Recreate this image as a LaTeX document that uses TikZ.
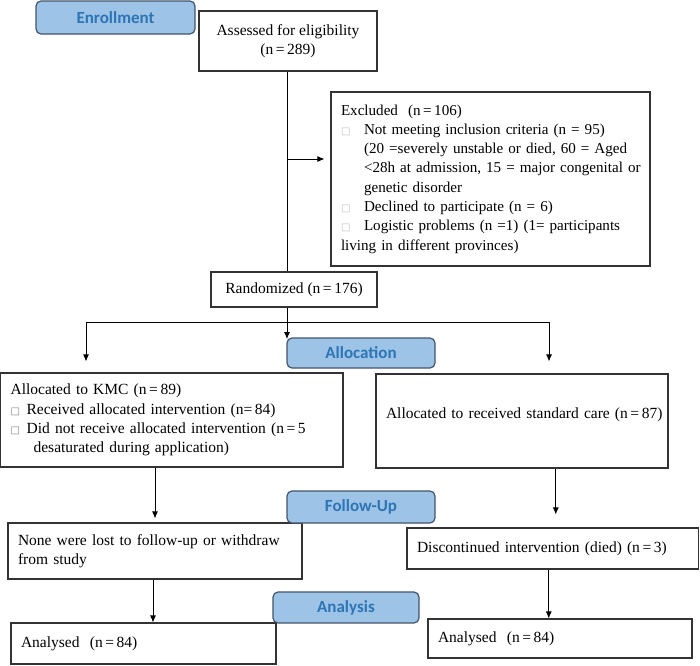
\documentclass[tikz,border=0pt]{standalone}
\usepackage{fontspec}
\setmainfont{Liberation Serif}
\newfontfamily\lblfont{Carlito}
\newfontfamily\symfnt{DejaVu Sans}
\usetikzlibrary{arrows.meta}
\definecolor{lblfill}{HTML}{9DC3E6}
\definecolor{lbltext}{HTML}{2E75B6}
\definecolor{lbldraw}{HTML}{44546A}
\definecolor{boxline}{HTML}{333333}
\newcommand{\sqbox}[1]{{\symfnt\fontsize{10}{10}\selectfont\color{#1}□}}
\begin{document}
\begin{tikzpicture}[x=1pt,y=-1pt,
  every node/.style={font=\rmfamily\fontsize{15.5}{19.3}\selectfont},
  box/.style={draw=boxline,line width=1.1pt,rectangle,inner ysep=0pt,inner xsep=10pt},
  lbl/.style={draw=lbldraw,fill=lblfill,line width=1.2pt,rounded corners=5pt,text=lbltext,
    font=\lblfont\bfseries\fontsize{17}{20}\selectfont,inner sep=0pt},
  arr/.style={draw=black,line width=0.9pt,-{Latex[length=7pt,width=6pt]}},
  conn/.style={draw=black,line width=0.9pt}
]
\useasboundingbox (0,0) rectangle (700,665);

% boxes
\node[box,minimum width=178pt,minimum height=60pt,align=center] (assess) at (288,41)
  {Assessed for eligibility\\(n\,=\,289)};
\node[box,minimum height=174pt,text width=299pt,align=left,font=\rmfamily\fontsize{15.1}{19.3}\selectfont] (excl) at (490.5,179)
  {\mbox{Excluded\ \ (n\,=\,106)}\\
   \mbox{\makebox[23pt][l]{\sqbox{lightgray}}Not meeting inclusion criteria (n = 95)}\\
   \mbox{\hspace*{23pt}(20 =severely unstable or died, 60 = Aged}\\
   \mbox{\hspace*{23pt}<28h at admission, 15 = major congenital or}\\
   \mbox{\hspace*{23pt}genetic disorder}\\
   \mbox{\makebox[23pt][l]{\sqbox{lightgray}}Declined to participate (n = 6)}\\
   \mbox{\makebox[23pt][l]{\sqbox{lightgray}}Logistic problems (n =1) (1= participants}\\
   \mbox{living in different provinces)}};
\node[box,minimum width=166pt,minimum height=35pt] (rand) at (294,289.5)
  {Randomized (n\,=\,176)};
\node[box,minimum height=94pt,text width=322.4pt,align=left] (kmc) at (171.8,420)
  {\mbox{Allocated to KMC (n\,=\,89)}\\
   \mbox{\makebox[16pt][l]{\sqbox{gray}}Received allocated intervention (n=\,84)}\\
   \mbox{\makebox[16pt][l]{\sqbox{gray}}Did not receive allocated intervention (n\,=\,5}\\
   \mbox{\hspace*{23pt}desaturated during application)}};
\node[box,minimum height=94pt,text width=272pt,align=left] (std) at (522,421)
  {\mbox{Allocated to received standard care (n\,=\,87)}\\[-3.3pt]\mbox{}};
\node[box,minimum height=56pt,text width=274pt,align=left] (lost) at (155,551)
  {\mbox{None were lost to follow-up or withdraw}\\\mbox{from study}};
\node[box,minimum height=41pt,text width=271.5pt,align=left] (disc) at (552.75,548.5)
  {\mbox{Discontinued intervention (died) (n\,=\,3)}};
\node[box,minimum height=41pt,text width=245pt,align=left] (anl) at (143.5,643.5)
  {Analysed\ \ (n\,=\,84)};
\node[box,minimum height=39pt,text width=244pt,align=left] (anr) at (560,638.5)
  {Analysed\ \ (n\,=\,84)};

% connectors
\coordinate (j1) at (287,159);
\coordinate (j2) at (287,322);
\coordinate (hl) at (86,322);
\coordinate (hr) at (549,322);
\draw[conn] (assess.south -| j1) -- (j1 |- rand.north);
\draw[arr,shorten >=6pt] (j1) -- (j1 -| excl.west);
\draw[arr] (rand.south -| j2) -- ([yshift=-1pt]j2 |- 0,338);
\draw[conn] (hl) -- (hr);
\draw[arr,shorten >=11pt] (hl) -- (hl |- kmc.north);
\draw[arr,shorten >=12pt] (hr) -- (hr |- std.north);
\draw[arr,shorten >=4pt] (lost.north |- kmc.south) -- (lost.north);
\draw[arr,shorten >=13pt] ([xshift=3pt]disc.north |- std.south) -- ([xshift=3pt]disc.north);
\draw[arr] ([xshift=-2pt]lost.south) -- ([xshift=-2pt]lost.south |- anl.north);
\draw[arr] ([xshift=-4pt]disc.south) -- ([xshift=-4pt]disc.south |- anr.north);

% stage labels
\node[lbl,minimum width=159pt,minimum height=33pt] (enr) at (115.5,17.5) {Enrollment};
\node[lbl,minimum width=148pt,minimum height=30pt] (alloc) at (361,353) {Allocation};
\node[lbl,minimum width=148pt,minimum height=32pt] (fu) at (361,507) {Follow-Up};
\node[lbl,minimum width=146pt,minimum height=31pt] (ana) at (346,607.5) {Analysis};
\end{tikzpicture}
\end{document}
